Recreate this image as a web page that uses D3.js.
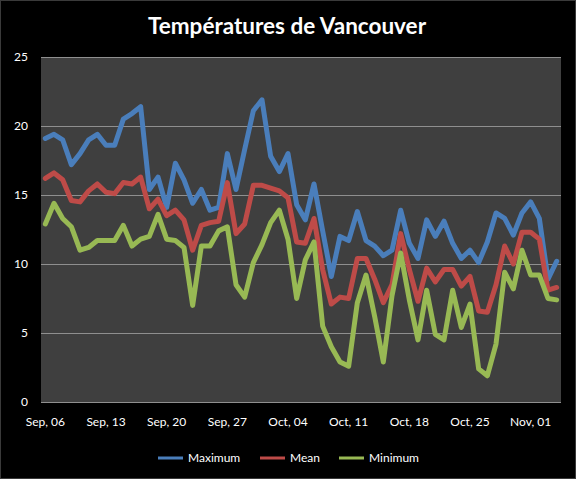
<!DOCTYPE html>
<html>
<head>
<meta charset="utf-8">
<script src="https://cdn.jsdelivr.net/npm/d3@7"></script>
<style>
  body { margin: 0; background: #000; }
  svg { display: block; }
</style>
</head>
<body>
<div id="chart"></div>
<script>
// daily temperatures, Sep 6 -> Nov 4
var maxTemps = [19.1, 19.4, 19.0, 17.2, 18.0, 19.0, 19.4, 18.6, 18.6, 20.5, 20.9, 21.4, 15.4, 16.3, 14.1,
    17.3, 16.1, 14.4, 15.4, 13.9, 14.1, 18.0, 15.4, 18.3, 21.1, 21.9, 17.8, 16.7, 18.0, 14.3,
    13.2, 15.8, 12.4, 9.1, 12.0, 11.7, 13.8, 11.7, 11.3, 10.6, 11.0, 13.9, 11.5, 10.4, 13.2,
    12.0, 13.1, 11.5, 10.4, 11.0, 10.1, 11.6, 13.7, 13.3, 12.1, 13.7, 14.5, 13.3, 8.9, 10.2];
var meanTemps = [16.2, 16.6, 16.1, 14.6, 14.5, 15.3, 15.8, 15.2, 15.1, 15.9, 15.8, 16.3, 14.0, 14.7, 13.5,
    13.9, 13.2, 11.0, 12.8, 13.0, 13.1, 15.9, 12.2, 12.9, 15.7, 15.7, 15.5, 15.3, 14.8, 11.6,
    11.5, 13.3, 9.6, 7.1, 7.6, 7.5, 10.4, 10.4, 8.9, 7.2, 8.5, 12.2, 9.6, 7.3, 9.7,
    8.7, 9.6, 9.6, 8.4, 9.1, 6.6, 6.5, 8.5, 11.3, 10.0, 12.3, 12.3, 11.8, 8.1, 8.3];
var minTemps = [12.9, 14.4, 13.3, 12.7, 11.0, 11.2, 11.7, 11.7, 11.7, 12.8, 11.3, 11.8, 12.0, 13.6, 11.8,
    11.7, 11.2, 7.0, 11.3, 11.3, 12.4, 12.7, 8.5, 7.6, 10.1, 11.4, 13.0, 13.9, 11.8, 7.5,
    10.3, 11.6, 5.5, 4.0, 2.9, 2.6, 7.2, 9.2, 6.2, 2.9, 7.7, 10.8, 7.4, 4.5, 8.1,
    4.9, 4.5, 8.1, 5.4, 7.1, 2.4, 1.9, 4.2, 9.4, 8.2, 11.0, 9.2, 9.2, 7.5, 7.4];

var seriesNames = ["Maximum", "Mean", "Minimum"];
var seriesColors = ["#4a7ebb", "#be4b48", "#98b954"];
var yTicks = [0, 5, 10, 15, 20, 25];

var width = 576,
    height = 479;
var margin = {top: 57, right: 15, bottom: 77, left: 41};

var days = d3.timeDay.range(new Date(2011, 8, 6), new Date(2011, 10, 5));

var svg = d3.select("#chart")
    .append("svg")
    .attr("width", width)
    .attr("height", height);

svg.append("rect")
    .attr("x", 0.5).attr("y", 0.5)
    .attr("width", width - 1).attr("height", height - 1)
    .attr("fill", "#000")
    .attr("stroke", "#3a3a3a");

svg.append("text")
    .attr("x", 287)
    .attr("y", 34)
    .attr("text-anchor", "middle")
    .style("font-family", "Lato, 'Open Sans', sans-serif")
    .style("font-weight", "bold")
    .style("font-size", "22.5px")
    .style("fill", "#fff")
    .text("Températures de Vancouver");

var x = d3.scaleBand()
    .domain(days)
    .range([margin.left, width - margin.right]);

var y = d3.scaleLinear()
    .domain([0, 25])
    .range([height - margin.bottom, margin.top]);

// plot area
svg.append("rect")
    .attr("x", margin.left)
    .attr("y", margin.top)
    .attr("width", width - margin.left - margin.right)
    .attr("height", height - margin.top - margin.bottom)
    .attr("fill", "#3f3f3f");

// gridlines
svg.append("g")
    .selectAll("line")
    .data(yTicks)
    .enter().append("line")
    .attr("x1", margin.left)
    .attr("x2", width - margin.right)
    .attr("y1", d => Math.round(y(d)) + 0.5)
    .attr("y2", d => Math.round(y(d)) + 0.5)
    .style("stroke", "#8f8f8f")
    .style("stroke-width", 1);

var yAxis = svg.append("g")
    .attr("class", "axis")
    .attr("transform", "translate(" + (margin.left - 13) + ",0)")
    .call(d3.axisLeft(y).tickValues(yTicks).tickSize(0).tickPadding(0));
yAxis.select(".domain").remove();

var xAxis = svg.append("g")
    .attr("class", "axis")
    .attr("transform", "translate(0," + (height - margin.bottom + 15) + ")")
    .call(d3.axisBottom(x)
        .tickValues(days.filter((d, i) => i % 7 === 0))
        .tickFormat(d3.timeFormat("%b, %d"))
        .tickSize(0).tickPadding(0));
xAxis.select(".domain").remove();

svg.selectAll(".axis text")
    .style("font-family", "Lato, 'Open Sans', sans-serif")
    .style("font-size", "12px")
    .style("fill", "#fff");

var line = d3.line()
    .x((d, i) => x(days[i]) + x.bandwidth() / 2)
    .y(d => y(d));

var allSeries = [maxTemps, meanTemps, minTemps];

svg.append("g")
    .selectAll("path")
    .data(allSeries)
    .enter().append("path")
    .attr("d", line)
    .attr("fill", "none")
    .style("stroke", (d, i) => seriesColors[i])
    .style("stroke-width", 5)
    .style("stroke-linejoin", "round")
    .style("stroke-linecap", "round");

// legend
var legendX = [158, 260, 339];
var legend = svg.selectAll(".legend")
    .data(seriesNames)
    .enter().append("g")
    .attr("class", "legend")
    .attr("transform", (d, i) => "translate(" + legendX[i] + ",458)");

legend.append("line")
    .attr("x1", 0).attr("x2", 25)
    .attr("y1", 0).attr("y2", 0)
    .style("stroke", (d, i) => seriesColors[i])
    .style("stroke-width", 3);

legend.append("text")
    .attr("x", 30)
    .attr("dy", "0.35em")
    .style("font-family", "Lato, 'Open Sans', sans-serif")
    .style("font-size", "12px")
    .style("fill", "#fff")
    .text(d => d);
</script>
</body>
</html>
